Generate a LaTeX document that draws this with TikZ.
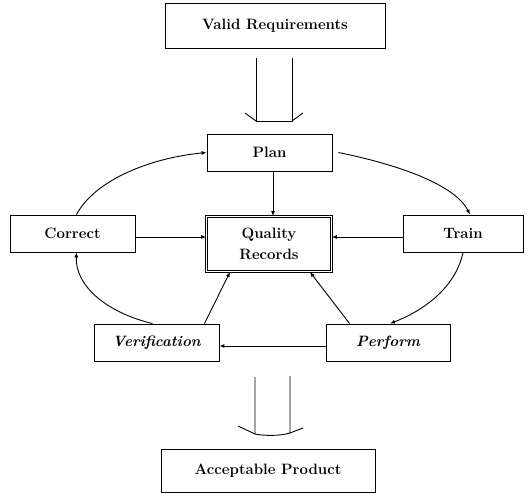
\documentclass[tikz,border=0pt]{standalone}
\usetikzlibrary{arrows.meta}
\begin{document}
\begin{tikzpicture}[x=1pt,y=-1pt,
  every node/.style={font=\fontsize{15}{21}\selectfont\bfseries},
  box/.style={draw,line width=0.9pt,inner sep=0pt,minimum height=37pt,minimum width=125pt},
  conn/.style={line width=0.9pt,-{Latex[length=5pt,width=4pt]}},
  hollow/.style={line width=0.9pt}]
\useasboundingbox (0,0) rectangle (532,493);
\node[box,minimum width=220pt,minimum height=45pt] (vr) at (275,25.5) {Valid Requirements};
\node[box] (plan) at (269.5,152.5) {Plan};
\node[box] (correct) at (72.5,233.5) {Correct};
\node[box,double,double distance=1.6pt,minimum width=125pt,minimum height=55pt,align=center] (qr) at (269,244) {Quality\\Records};
\node[box,minimum width=120pt] (train) at (463,233.5) {Train};
\node[box,font=\fontsize{15}{21}\selectfont\bfseries\itshape] (ver) at (156.5,342.5) {Verification};
\node[box,minimum width=124pt,font=\fontsize{15}{21}\selectfont\bfseries\itshape] (perf) at (388,342.5) {Perform};
\node[box,minimum width=214pt,minimum height=43pt] (ap) at (268,470.5) {Acceptable Product};
% hollow arrows
\draw[hollow] (256,58) -- (256,121) -- (292,121) -- (292,58);
\draw[hollow] (245,113) -- (256,121);
\draw[hollow] (303,113) -- (292,121);
\draw[hollow] (255,377) -- (255,434) .. controls (265,436) and (280,436) .. (290,433) -- (290,376);
\draw[hollow] (238,426) -- (255,434);
\draw[hollow] (303,428) -- (290,433);
% straight connectors
\draw[conn] ([xshift=3.5pt]plan.south) -- ([xshift=4pt]qr.north);
\draw[conn] ([yshift=-3.5pt]correct.east) -- ([yshift=7pt]qr.west);
\draw[conn] ([yshift=-3.5pt]train.west) -- ([yshift=7pt]qr.east);
\draw[conn] ([yshift=-3.5pt]perf.west) -- ([yshift=-3.5pt]ver.east);
\draw[conn] ([xshift=-15pt]ver.north east) -- ([xshift=24pt]qr.south west);
\draw[conn] ([xshift=24pt]perf.north west) -- ([xshift=-22pt]qr.south east);
% curved connectors
\draw[conn] ([xshift=4pt]correct.north) .. controls (95,180) and (150,158) .. (plan.west);
\draw[conn] ([xshift=6pt]plan.east) .. controls (400,165) and (455,185) .. ([xshift=7pt]train.north);
\draw[conn] (train.south) .. controls (455,290) and (420,312) .. ([xshift=2pt]perf.north);
\draw[conn] ([xshift=-4pt]ver.north) .. controls (105,312) and (75,285) .. ([xshift=4pt]correct.south);
\end{tikzpicture}
\end{document}
